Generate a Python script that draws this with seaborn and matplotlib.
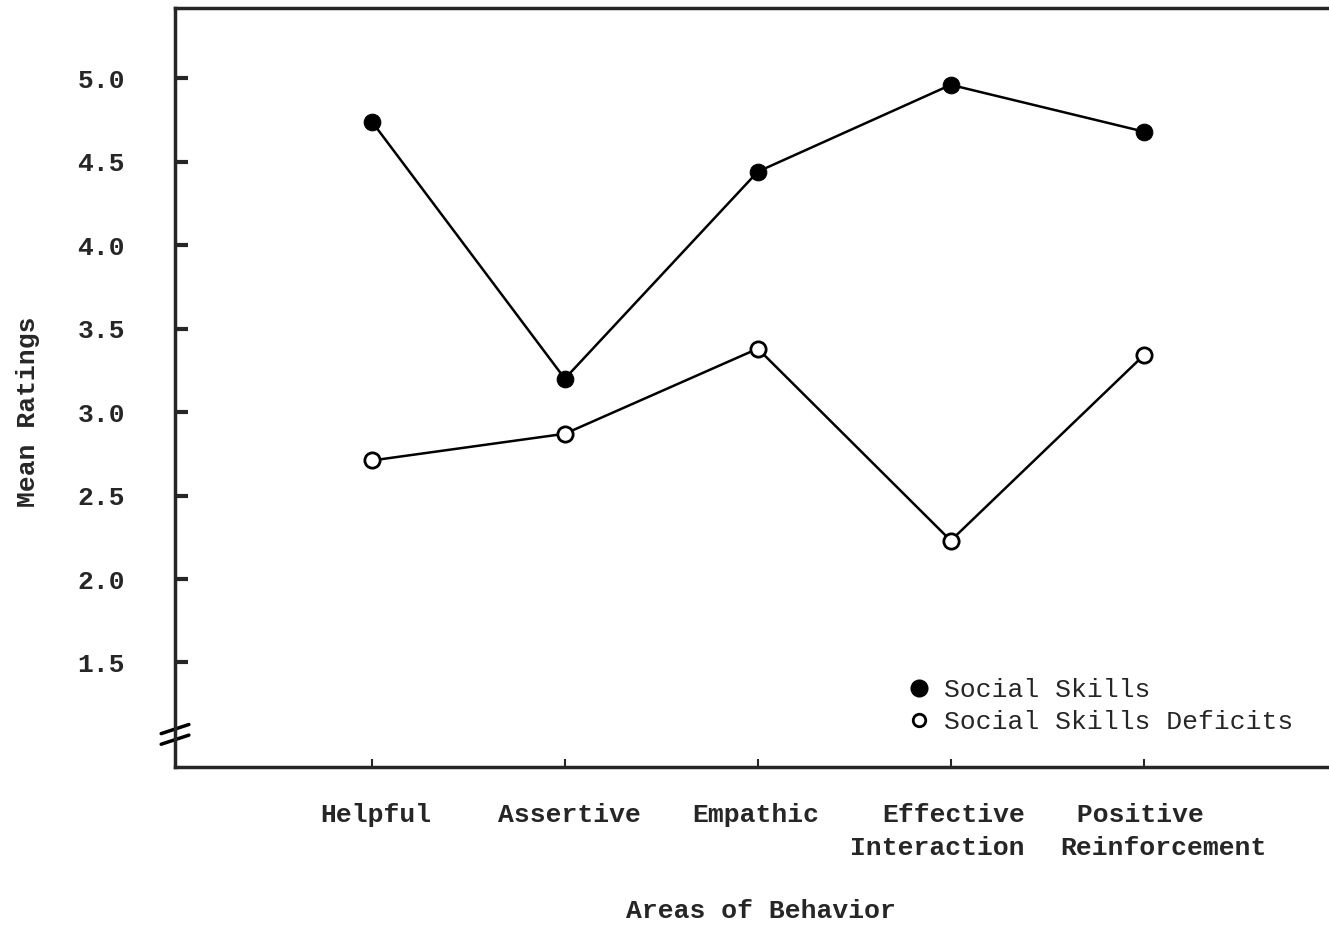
import pandas as pd
import matplotlib.pyplot as plt
import matplotlib.transforms as mtransforms
import seaborn as sns
from matplotlib.lines import Line2D

# Mean ratings
areas = ['Helpful', 'Assertive', 'Empathic', 'Effective\nInteraction', ' Positive\nReinforcement']
social_skills = [4.74, 3.20, 4.44, 4.96, 4.68]
skills_deficits = [2.71, 2.87, 3.38, 2.23, 3.34]
y_ticks = [1.5, 2.0, 2.5, 3.0, 3.5, 4.0, 4.5, 5.0]

data = pd.DataFrame({'area': areas, 'Social Skills': social_skills,
                     'Social Skills Deficits': skills_deficits})

sns.set_style('ticks')
plt.rcParams['font.family'] = ['Liberation Mono', 'DejaVu Sans Mono']

fig = plt.figure(figsize=(13.29, 9.25), dpi=100)
ax = fig.add_axes([0.1317, 0.1708, 0.8683, 0.8205])

sns.lineplot(data=data, x='area', y='Social Skills', ax=ax, color='black',
             linewidth=1.8, marker='o', markersize=12, markerfacecolor='black',
             markeredgecolor='black', sort=False)
sns.lineplot(data=data, x='area', y='Social Skills Deficits', ax=ax, color='black',
             linewidth=1.8, marker='o', markersize=11, markerfacecolor='white',
             markeredgecolor='black', markeredgewidth=2, sort=False)

ax.set_xlim(-1.02, 4.96)
ax.set_ylim(0.874, 5.42)
ax.set_yticks(y_ticks)
ax.set_yticklabels([f'{v:.1f}' for v in y_ticks], fontsize=19, fontweight='bold')
ax.set_xticks(range(len(areas)))
ax.set_xticklabels(areas, fontsize=19, fontweight='bold', linespacing=1.45)
ax.tick_params(axis='y', direction='in', length=9, width=3, pad=36)
ax.tick_params(axis='x', direction='in', length=6, width=1.5, pad=26)

# typewriter-style placement of the two-line labels
shifts = [4, 5, -2, -13, 20]
aligns = ['center', 'center', 'center', 'right', 'left']
for lbl, dx, al in zip(ax.get_xticklabels(), shifts, aligns):
    lbl.set_verticalalignment('top')
    lbl.set_multialignment(al)
    lbl.set_transform(lbl.get_transform() +
                      mtransforms.ScaledTranslation(dx / 100, 0, fig.dpi_scale_trans))

ax.set_xlabel('Areas of Behavior', fontsize=19, fontweight='bold')
ax.xaxis.set_label_coords(0.508, -0.174)
ax.set_ylabel('Mean Ratings', fontsize=19, fontweight='bold')
ax.yaxis.set_label_coords(-0.117, 0.468)

for side in ['left', 'bottom', 'top']:
    ax.spines[side].set_linewidth(2.5)
ax.spines['right'].set_visible(False)

# axis break marks
for yb in [0.036, 0.050]:
    ax.plot([-0.012, 0.012], [yb - 0.006, yb + 0.006], transform=ax.transAxes,
            color='black', linewidth=2.5, clip_on=False)

handles = [Line2D([], [], linestyle='none', marker='o', markersize=12,
                  markerfacecolor='black', markeredgecolor='black'),
           Line2D([], [], linestyle='none', marker='o', markersize=9,
                  markerfacecolor='white', markeredgecolor='black', markeredgewidth=2)]
ax.legend(handles, ['Social Skills', 'Social Skills Deficits'], loc='upper left',
          bbox_to_anchor=(0.624, 0.131), frameon=False, fontsize=19,
          handletextpad=0.45, handlelength=1.0, labelspacing=0.3, borderaxespad=0)

fig.savefig('out.png', dpi=100)
